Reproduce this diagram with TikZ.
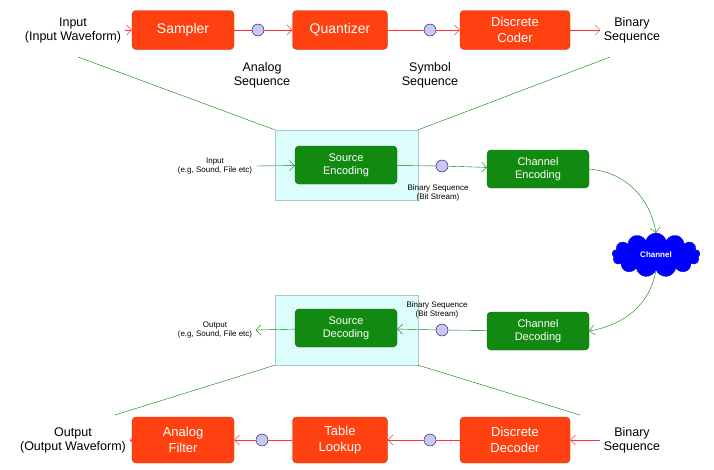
\documentclass[tikz,border=0pt]{standalone}
\usepackage{fontspec}
\setmainfont{Liberation Sans}
\usetikzlibrary{arrows.meta, positioning, shapes.symbols}
\definecolor{redbox}{HTML}{FF4010}
\definecolor{greenbox}{HTML}{128A12}
\definecolor{dotfill}{HTML}{C8C8F0}
\definecolor{panel}{HTML}{DDFCFC}

\begin{document}
\begin{tikzpicture}[
        x=1pt, y=-1pt,
        stage/.style={
          draw=redbox!80!black,
          fill=redbox,
          rounded corners=4pt,
          text=white,
          font=\fontsize{14}{15}\selectfont,
          align=center,
          minimum height=39pt,
          inner sep=2pt
        },
        coder/.style={
          draw=greenbox!70!black,
          fill=greenbox,
          rounded corners=4pt,
          text=white,
          font=\fontsize{11}{13}\selectfont,
          align=center,
          minimum width=102pt,
          minimum height=38pt
        },
        dot/.style={circle, draw=blue!40!black, fill=dotfill, minimum size=12pt, inner sep=0pt},
        caption/.style={align=center, font=\fontsize{12.5}{14}\selectfont},
        small/.style={align=center, font=\fontsize{8}{9.5}\selectfont},
        redarrow/.style={-{Straight Barb[length=5pt,width=10pt]}, red!80, thin},
        greenarrow/.style={-{Straight Barb[length=5pt,width=10pt]}, green!50!black},
        greenline/.style={green!50!black}
      ]
      \useasboundingbox (0,0) rectangle (714,469);

      % Panels
      \node[draw=cyan!30!gray!60, fill=panel, minimum width=143pt, minimum height=70pt] (enc panel) at (346.5,165) {};
      \node[draw=cyan!30!gray!60, fill=panel, minimum width=143pt, minimum height=70pt] (dec panel) at (346.5,330) {};

      % Top row (source encoding detail)
      \node[caption] (input) at (73,30) {Input\\(Input Waveform)};
      \node[stage, minimum width=102pt] (sampler) at (183,30) {Sampler};
      \node[dot] (analog) at (258,30) {};
      \node[stage, minimum width=95pt] (quantizer) at (340,30) {Quantizer};
      \node[dot] (symbol) at (430,30) {};
      \node[stage, minimum width=110pt, font=\fontsize{13}{16}\selectfont] (coder) at (515,30) {Discrete\\Coder};
      \node[caption] (binary top) at (632,30) {Binary\\Sequence};
      \node[caption] at (262,75) {Analog\\Sequence};
      \node[caption] at (430,75) {Symbol\\Sequence};

      \draw[redarrow] (input) -- (sampler);
      \draw[red!80] (sampler) -- (analog);
      \draw[redarrow] (analog) -- (quantizer);
      \draw[red!80] (quantizer) -- (symbol);
      \draw[redarrow] (symbol) -- (coder);
      \draw[redarrow] (coder) -- (binary top);

      % Middle (encoding)
      \node[coder] (source enc) at (346,165) {Source\\Encoding};
      \node[small] (enc input) at (215,166) {Input\\(e.g, Sound, File etc)};
      \node[dot] (enc bits) at (442,166) {};
      \node[coder] (channel enc) at (538,169) {Channel\\Encoding};
      \node[small] at (438,193) {Binary Sequence\\(Bit Stream)};
      \node[cloud, cloud puffs=13, aspect=2.1, draw=blue!80!black, fill=blue, text=white,
            font=\fontsize{8}{9}\selectfont\bfseries, minimum width=88pt, minimum height=44pt] (channel) at (656,255) {Channel};

      \draw[greenarrow] (enc input.east) -- (source enc);
      \draw[greenline] (source enc) -- (enc bits);
      \draw[greenarrow] (enc bits) -- (channel enc);
      \draw[greenarrow] (channel enc.east) to[out=-5, in=100] (channel.north);

      % Middle (decoding)
      \node[coder] (channel dec) at (538,331) {Channel\\Decoding};
      \node[dot] (dec bits) at (442,330) {};
      \node[small] at (437,310) {Binary Sequence\\(Bit Stream)};
      \node[coder] (source dec) at (346,328) {Source\\Decoding};
      \node[small] (dec output) at (215,330) {Output\\(e.g, Sound, File etc)};

      \draw[greenarrow] (channel.south) to[out=-100, in=10] (channel dec.east);
      \draw[greenline] (channel dec) -- (dec bits);
      \draw[greenarrow] (dec bits) -- (source dec);
      \draw[greenarrow] (source dec) -- (dec output.east);

      % Zoom lines
      \coordinate (top left) at (78,57);
      \coordinate (top right) at (610,57);
      \coordinate (bottom left) at (115,415);
      \coordinate (bottom right) at (580,415);
      \draw[greenline] (top left) -- (enc panel.north west);
      \draw[greenline] (top right) -- (enc panel.north east);
      \draw[greenline] (bottom left) -- (dec panel.south west);
      \draw[greenline] (bottom right) -- (dec panel.south east);

      % Bottom row (source decoding detail)
      \node[caption] (output) at (73,440) {Output\\(Output Waveform)};
      \node[stage, minimum width=102pt, minimum height=46pt, font=\fontsize{13}{16}\selectfont] (filter) at (183,440) {Analog\\Filter};
      \node[dot] (filter in) at (262,440) {};
      \node[stage, minimum width=95pt, minimum height=46pt, font=\fontsize{13}{16}\selectfont] (lookup) at (340,440) {Table\\Lookup};
      \node[dot] (lookup in) at (430,440) {};
      \node[stage, minimum width=110pt, minimum height=46pt, font=\fontsize{13}{16}\selectfont] (decoder) at (515,440) {Discrete\\Decoder};
      \node[caption] (binary bottom) at (632,440) {Binary\\Sequence};

      \draw[redarrow] (binary bottom) -- (decoder);
      \draw[red!80] (decoder) -- (lookup in);
      \draw[redarrow] (lookup in) -- (lookup);
      \draw[red!80] (lookup) -- (filter in);
      \draw[redarrow] (filter in) -- (filter);
      \draw[redarrow] (filter) -- (output);

    \end{tikzpicture}
\end{document}
